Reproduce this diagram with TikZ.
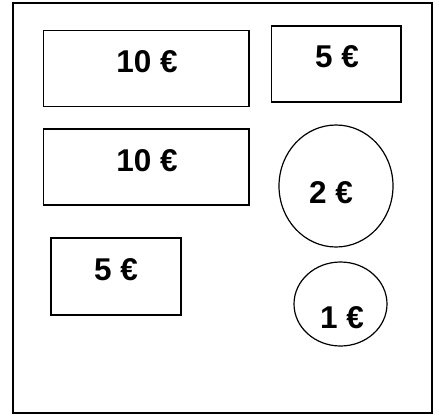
\documentclass[tikz,border=0pt]{standalone}
\usepackage{fontspec}
\setmainfont{Liberation Sans}
\usetikzlibrary{shapes.geometric}
\begin{document}
\begin{tikzpicture}[x=1pt,y=-1pt,
  note/.style={draw, line width=1.2pt, inner sep=0pt, rectangle},
  coin/.style={draw, line width=1.2pt, inner sep=0pt, ellipse},
  lbl/.style={font=\fontsize{31.5}{36}\selectfont\bfseries, inner sep=0pt}]
\useasboundingbox (0,0) rectangle (439,415);
\node[draw, line width=1.5pt, minimum width=419pt, minimum height=410pt, inner sep=0pt] (frame) at (222.5,208) {};
\node[note, minimum width=205.5pt, minimum height=76pt] (n10a) at (146.25,68.5) {};
\node[note, minimum width=129.5pt, minimum height=76pt] (n5a) at (336.25,64) {};
\node[note, minimum width=205.5pt, minimum height=76pt] (n10b) at (146.25,167) {};
\node[note, minimum width=130pt, minimum height=77pt] (n5b) at (116,276.5) {};
\node[coin, minimum width=114pt, minimum height=122pt] (c2) at (336,186) {};
\node[coin, minimum width=93pt, minimum height=84pt] (c1) at (340.5,304) {};
\node[lbl] (t10a) at (147,62) {10 €};
\node[lbl] (t5a) at (337,57) {5 €};
\node[lbl] (t10b) at (147,161) {10 €};
\node[lbl] (t5b) at (116,270) {5 €};
\node[lbl] (t2) at (331,193) {2 €};
\node[lbl] (t1) at (342,318) {1 €};
\end{tikzpicture}
\end{document}
